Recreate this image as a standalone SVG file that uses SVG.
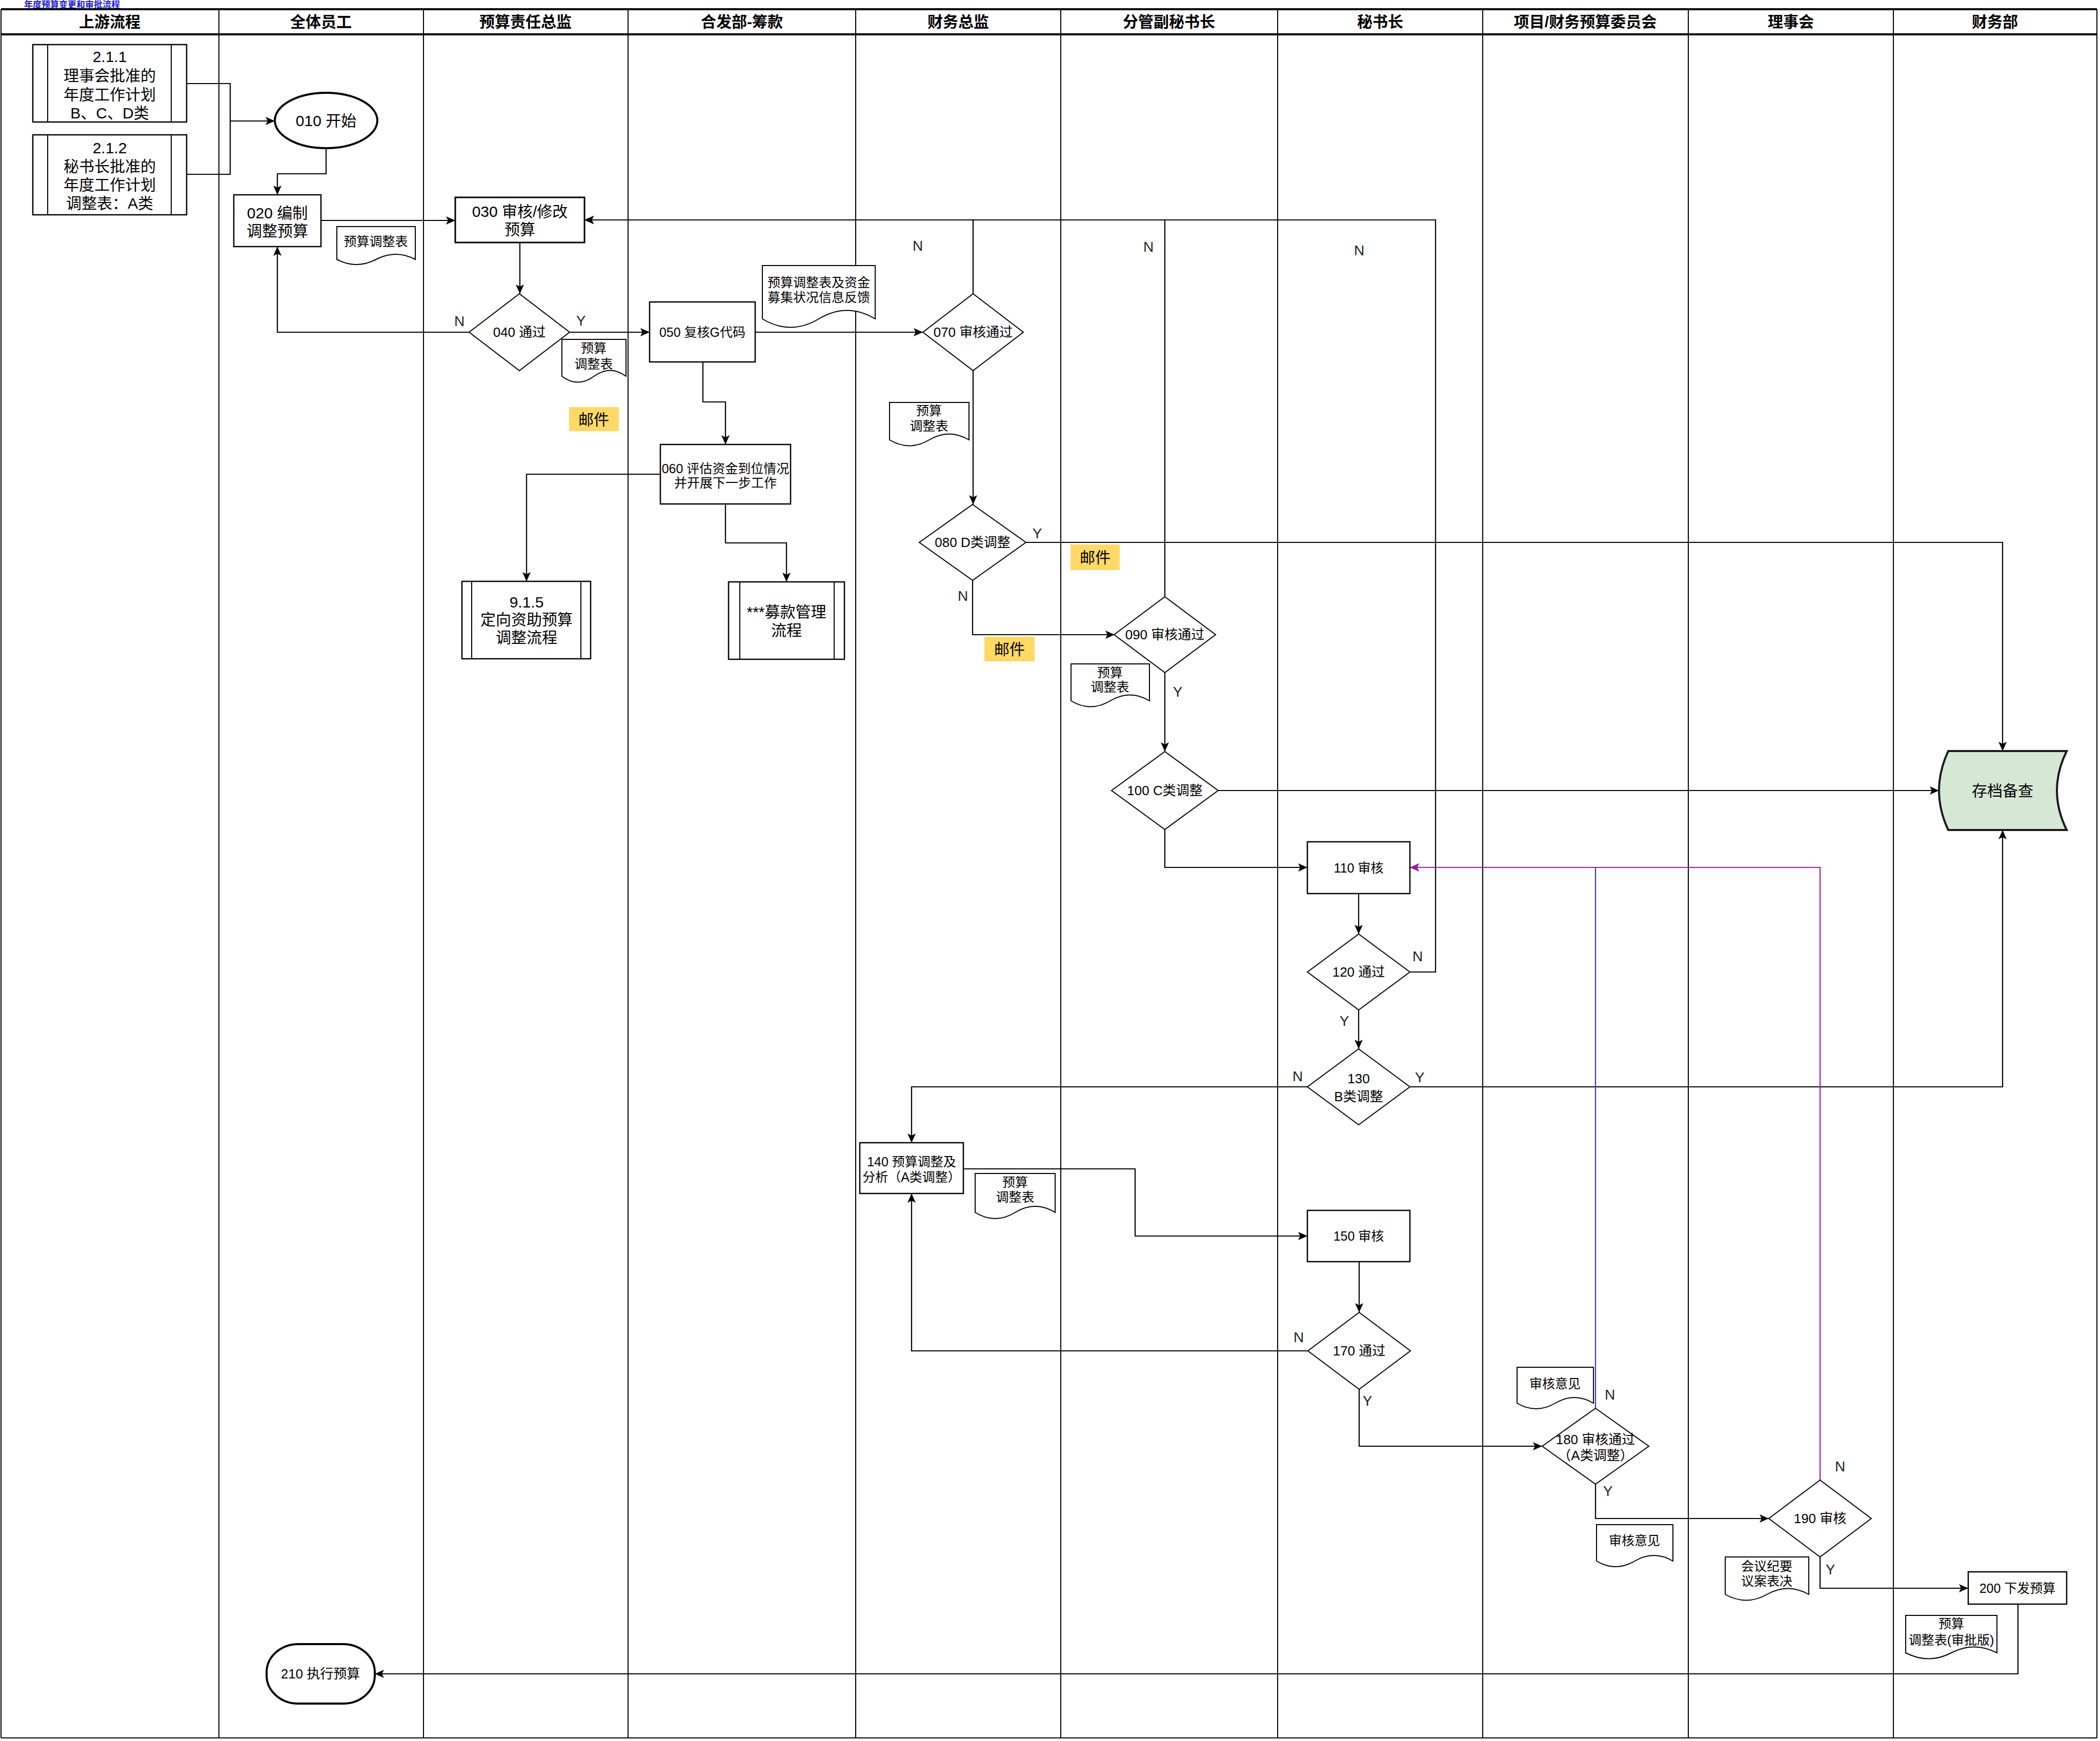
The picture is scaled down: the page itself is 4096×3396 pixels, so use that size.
<svg xmlns="http://www.w3.org/2000/svg" width="4096" height="3396" viewBox="0 0 4096 3396">
<style>
text{font-family:"Liberation Sans","Noto Sans CJK SC",sans-serif;fill:#000;text-anchor:middle;dominant-baseline:central}
.hdr{font-size:30px;font-weight:bold}
.t30{font-size:30px}
.t26{font-size:26px}
.t25{font-size:25px}
.yn{font-size:28px;fill:#222}
.lane{stroke:#000;stroke-width:2;fill:none}
.hline{stroke:#000;stroke-width:4;fill:none}
.box{fill:#fff;stroke:#000;stroke-width:2.5}
.dia{fill:#fff;stroke:#000;stroke-width:2}
.doc{fill:#fff;stroke:#000;stroke-width:2}
.term{fill:#fff;stroke:#000;stroke-width:4}
.mail{fill:#FFD966;stroke:none}
.conn{fill:none;stroke:#000;stroke-width:2.2;marker-end:url(#a)}
.line{fill:none;stroke:#000;stroke-width:2.2}
.blue{fill:none;stroke:#3838c8;stroke-width:2.2;marker-end:url(#ab)}
.purple{fill:none;stroke:#9c1ca8;stroke-width:2.2;marker-end:url(#ap)}
</style>
<defs>
<marker id="a" markerWidth="18" markerHeight="16" refX="18" refY="8" orient="auto" markerUnits="userSpaceOnUse"><path d="M0,0 L18,8 L0,16 L4,8 Z" fill="#000"/></marker>
<marker id="ab" markerWidth="18" markerHeight="16" refX="18" refY="8" orient="auto" markerUnits="userSpaceOnUse"><path d="M0,0 L18,8 L0,16 L4,8 Z" fill="#3838c8"/></marker>
<marker id="ap" markerWidth="18" markerHeight="16" refX="18" refY="8" orient="auto" markerUnits="userSpaceOnUse"><path d="M0,0 L18,8 L0,16 L4,8 Z" fill="#9c1ca8"/></marker>
</defs>
<rect x="0" y="0" width="4096" height="3396" fill="#fff"/>
<text x="47" y="9" style="font-size:17px;fill:#1a1ad0;font-weight:bold;text-anchor:start">年度预算变更和审批流程</text>

<g id="lanes">
<line class="hline" x1="2" y1="18" x2="4090" y2="18"/>
<line class="hline" x1="2" y1="67" x2="4090" y2="67"/>
<line class="lane" x1="2" y1="3390" x2="4090" y2="3390"/>
<line class="lane" x1="2" y1="18" x2="2" y2="3390"/>
<line class="lane" x1="427" y1="18" x2="427" y2="3390"/>
<line class="lane" x1="826" y1="18" x2="826" y2="3390"/>
<line class="lane" x1="1225" y1="18" x2="1225" y2="3390"/>
<line class="lane" x1="1669" y1="18" x2="1669" y2="3390"/>
<line class="lane" x1="2069" y1="18" x2="2069" y2="3390"/>
<line class="lane" x1="2492" y1="18" x2="2492" y2="3390"/>
<line class="lane" x1="2892" y1="18" x2="2892" y2="3390"/>
<line class="lane" x1="3293" y1="18" x2="3293" y2="3390"/>
<line class="lane" x1="3693" y1="18" x2="3693" y2="3390"/>
<line class="lane" x1="4090" y1="18" x2="4090" y2="3390"/>
<text class="hdr" x="214" y="42">上游流程</text>
<text class="hdr" x="626" y="42">全体员工</text>
<text class="hdr" x="1025" y="42">预算责任总监</text>
<text class="hdr" x="1447" y="42">合发部-筹款</text>
<text class="hdr" x="1869" y="42">财务总监</text>
<text class="hdr" x="2280" y="42">分管副秘书长</text>
<text class="hdr" x="2692" y="42">秘书长</text>
<text class="hdr" x="3092" y="42">项目/财务预算委员会</text>
<text class="hdr" x="3493" y="42">理事会</text>
<text class="hdr" x="3891" y="42">财务部</text>
</g>

<g id="connectors">
<path class="line" d="M364 163 H449 V340 H364"/>
<path class="conn" d="M449 236 H536"/>
<path class="conn" d="M636 289 V339 H541 V380"/>
<path class="conn" d="M626 430 H888"/>
<path class="conn" d="M1014 473 V573"/>
<path class="conn" d="M915 648 H541 V481"/>
<path class="conn" d="M1111 648 H1267"/>
<path class="conn" d="M1473 648 H1800"/>
<path class="conn" d="M1371 706 V784 H1415 V867"/>
<path class="conn" d="M1288 925 H1027 V1134"/>
<path class="conn" d="M1415 983 V1059 H1534 V1135"/>
<path class="conn" d="M1898 573 V429 H1140"/>
<path class="conn" d="M1898 723 V984"/>
<path class="conn" d="M2001 1058 H3906 V1465"/>
<path class="conn" d="M1897 1132 V1238 H2174"/>
<path class="conn" d="M2272 1164 V429 H1140"/>
<path class="conn" d="M2272 1312 V1466"/>
<path class="conn" d="M2376 1542 H3782"/>
<path class="conn" d="M2272 1618 V1692 H2550"/>
<path class="conn" d="M2650 1743 V1822"/>
<path class="conn" d="M2750 1896 H2800 V429 H1140"/>
<path class="conn" d="M2650 1970 V2046"/>
<path class="conn" d="M2550 2120 H1778 V2229"/>
<path class="conn" d="M2750 2120 H3906 V1619"/>
<path class="conn" d="M1879 2280 H2214 V2411 H2550"/>
<path class="conn" d="M2651 2461 V2560"/>
<path class="conn" d="M2551 2635 H1778 V2328"/>
<path class="conn" d="M2651 2710 V2821 H3008"/>
<path class="blue" d="M3112 2747 V1692 H2750"/>
<path class="purple" d="M3550 2887 V1692 H2750"/>
<path class="conn" d="M3112 2895 V2962 H3450"/>
<path class="conn" d="M3550 3037 V3098 H3839"/>
<path class="conn" d="M3936 3129 V3265 H731"/>
<text class="yn" x="896" y="626">N</text>
<text class="yn" x="1133" y="625">Y</text>
<text class="yn" x="1790" y="479">N</text>
<text class="yn" x="2240" y="481">N</text>
<text class="yn" x="2651" y="488">N</text>
<text class="yn" x="2023" y="1040">Y</text>
<text class="yn" x="1878" y="1162">N</text>
<text class="yn" x="2297" y="1349">Y</text>
<text class="yn" x="2765" y="1865">N</text>
<text class="yn" x="2622" y="1991">Y</text>
<text class="yn" x="2531" y="2099">N</text>
<text class="yn" x="2769" y="2101">Y</text>
<text class="yn" x="2533" y="2608">N</text>
<text class="yn" x="2667" y="2732">Y</text>
<text class="yn" x="3140" y="2720">N</text>
<text class="yn" x="3136" y="2908">Y</text>
<text class="yn" x="3589" y="2860">N</text>
<text class="yn" x="3570" y="3061">Y</text>
</g>

<g id="n211">
<rect class="box" x="64" y="87" width="300" height="151"/>
<line class="lane" x1="93" y1="87" x2="93" y2="238"/>
<line class="lane" x1="334" y1="87" x2="334" y2="238"/>
<text class="t30" x="214" y="110">2.1.1</text>
<text class="t30" x="214" y="147">理事会批准的</text>
<text class="t30" x="214" y="184">年度工作计划</text>
<text class="t30" x="214" y="220">B、C、D类</text>
</g>
<g id="n212">
<rect class="box" x="64" y="263" width="300" height="156"/>
<line class="lane" x1="93" y1="263" x2="93" y2="419"/>
<line class="lane" x1="334" y1="263" x2="334" y2="419"/>
<text class="t30" x="214" y="288">2.1.2</text>
<text class="t30" x="214" y="324">秘书长批准的</text>
<text class="t30" x="214" y="360">年度工作计划</text>
<text class="t30" x="214" y="396">调整表：A类</text>
</g>
<g id="n010">
<ellipse class="term" cx="636" cy="235" rx="100" ry="54"/>
<text class="t30" x="636" y="235">010 开始</text>
</g>
<g id="n020">
<rect class="box" x="456" y="380" width="170" height="101"/>
<text class="t30" x="541" y="415">020 编制</text>
<text class="t30" x="541" y="450">调整预算</text>
</g>
<g id="d1">
<path class="doc" d="M657 442 H810 V506 Q772 486 733.5 506 Q695 526 657 506 Z"/>
<text class="t25" x="733" y="471">预算调整表</text>
</g>
<g id="n030">
<rect class="box" x="888" y="385" width="252" height="88" style="stroke-width:3"/>
<text class="t30" x="1014" y="412">030 审核/修改</text>
<text class="t30" x="1014" y="447">预算</text>
</g>
<g id="n040">
<polygon class="dia" points="1013,573 1111,648 1013,723 915,648"/>
<text class="t26" x="1013" y="648">040 通过</text>
</g>
<g id="d2">
<path class="doc" d="M1096 662 H1221 V734 Q1190 711 1158.5 734 Q1127 757 1096 734 Z"/>
<text class="t25" x="1158" y="679">预算</text>
<text class="t25" x="1158" y="710">调整表</text>
</g>
<g id="m1">
<rect class="mail" x="1110" y="794" width="97" height="47"/>
<text class="t30" x="1158" y="818">邮件</text>
</g>
<g id="n050">
<rect class="box" x="1267" y="589" width="206" height="117"/>
<text class="t25" x="1370" y="648">050 复核G代码</text>
</g>
<g id="d3">
<path class="doc" d="M1487 518 H1707 V622 Q1652 589 1597 622 Q1542 655 1487 622 Z"/>
<text class="t25" x="1597" y="551">预算调整表及资金</text>
<text class="t25" x="1597" y="580">募集状况信息反馈</text>
</g>
<g id="n060">
<rect class="box" x="1288" y="867" width="254" height="116"/>
<text class="t25" x="1415" y="914">060 评估资金到位情况</text>
<text class="t25" x="1415" y="942">并开展下一步工作</text>
</g>
<g id="n915">
<rect class="box" x="901" y="1134" width="251" height="151"/>
<line class="lane" x1="920" y1="1134" x2="920" y2="1285"/>
<line class="lane" x1="1133" y1="1134" x2="1133" y2="1285"/>
<text class="t30" x="1027" y="1174">9.1.5</text>
<text class="t30" x="1027" y="1208">定向资助预算</text>
<text class="t30" x="1027" y="1243">调整流程</text>
</g>
<g id="nmk">
<rect class="box" x="1421" y="1135" width="226" height="151"/>
<line class="lane" x1="1443" y1="1135" x2="1443" y2="1286"/>
<line class="lane" x1="1627" y1="1135" x2="1627" y2="1286"/>
<text class="t30" x="1534" y="1193">***募款管理</text>
<text class="t30" x="1534" y="1229">流程</text>
</g>
<g id="n070">
<polygon class="dia" points="1898,573 1996,648 1898,723 1800,648"/>
<text class="t26" x="1898" y="648">070 审核通过</text>
</g>
<g id="d4">
<path class="doc" d="M1735 785 H1890 V858 Q1851 835 1812.5 858 Q1774 881 1735 858 Z"/>
<text class="t25" x="1812" y="801">预算</text>
<text class="t25" x="1812" y="831">调整表</text>
</g>
<g id="n080">
<polygon class="dia" points="1897,984 2001,1058 1897,1132 1793,1058"/>
<text class="t26" x="1897" y="1058">080 D类调整</text>
</g>
<g id="m2">
<rect class="mail" x="2088" y="1062" width="96" height="50"/>
<text class="t30" x="2136" y="1087">邮件</text>
</g>
<g id="m3">
<rect class="mail" x="1920" y="1242" width="98" height="48"/>
<text class="t30" x="1969" y="1266">邮件</text>
</g>
<g id="n090">
<polygon class="dia" points="2272,1164 2371,1238 2272,1312 2173,1238"/>
<text class="t26" x="2272" y="1238">090 审核通过</text>
</g>
<g id="d5">
<path class="doc" d="M2089 1295 H2242 V1367 Q2204 1344 2165.5 1367 Q2127 1390 2089 1367 Z"/>
<text class="t25" x="2165" y="1312">预算</text>
<text class="t25" x="2165" y="1340">调整表</text>
</g>
<g id="n100">
<polygon class="dia" points="2272,1466 2376,1542 2272,1618 2168,1542"/>
<text class="t26" x="2272" y="1542">100 C类调整</text>
</g>
<g id="narchive">
<path d="M3800 1465 L4031 1465 Q3993 1542 4031 1619 L3800 1619 Q3764 1542 3800 1465 Z" fill="#d5e8d4" stroke="#1a1a1a" stroke-width="4"/>
<text class="t30" x="3906" y="1542">存档备查</text>
</g>
<g id="n110">
<rect class="box" x="2550" y="1642" width="200" height="101"/>
<text class="t25" x="2650" y="1693">110 审核</text>
</g>
<g id="n120">
<polygon class="dia" points="2650,1822 2750,1896 2650,1970 2550,1896"/>
<text class="t26" x="2650" y="1896">120 通过</text>
</g>
<g id="n130">
<polygon class="dia" points="2650,2046 2750,2120 2650,2194 2550,2120"/>
<text class="t26" x="2650" y="2104">130</text>
<text class="t26" x="2650" y="2139">B类调整</text>
</g>
<g id="n140">
<rect class="box" x="1677" y="2229" width="202" height="99"/>
<text class="t25" x="1778" y="2266">140 预算调整及</text>
<text class="t25" x="1778" y="2296">分析（A类调整）</text>
</g>
<g id="d6">
<path class="doc" d="M1902 2289 H2058 V2365 Q2019 2341 1980 2365 Q1941 2389 1902 2365 Z"/>
<text class="t25" x="1980" y="2306">预算</text>
<text class="t25" x="1980" y="2335">调整表</text>
</g>
<g id="n150">
<rect class="box" x="2550" y="2361" width="200" height="100"/>
<text class="t25" x="2650" y="2411">150 审核</text>
</g>
<g id="n170">
<polygon class="dia" points="2651,2560 2751,2635 2651,2710 2551,2635"/>
<text class="t26" x="2651" y="2635">170 通过</text>
</g>
<g id="d7">
<path class="doc" d="M2959 2667 H3108 V2737 Q3071 2715 3033.5 2737 Q2996 2759 2959 2737 Z"/>
<text class="t25" x="3033" y="2699">审核意见</text>
</g>
<g id="n180">
<polygon class="dia" points="3112,2747 3216,2821 3112,2895 3008,2821"/>
<text class="t26" x="3112" y="2808">180 审核通过</text>
<text class="t26" x="3112" y="2839">（A类调整）</text>
</g>
<g id="d8">
<path class="doc" d="M3114 2974 H3263 V3045 Q3226 3023 3188.5 3045 Q3151 3067 3114 3045 Z"/>
<text class="t25" x="3188" y="3005">审核意见</text>
</g>
<g id="n190">
<polygon class="dia" points="3550,2887 3650,2962 3550,3037 3450,2962"/>
<text class="t26" x="3550" y="2962">190 审核</text>
</g>
<g id="d9">
<path class="doc" d="M3365 3037 H3528 V3110 Q3487 3087 3446.5 3110 Q3406 3133 3365 3110 Z"/>
<text class="t25" x="3446" y="3055">会议纪要</text>
<text class="t25" x="3446" y="3084">议案表决</text>
</g>
<g id="n200">
<rect class="box" x="3839" y="3066" width="192" height="63"/>
<text class="t25" x="3935" y="3098">200 下发预算</text>
</g>
<g id="d10">
<path class="doc" d="M3717 3151 H3895 V3224 Q3850.5 3201 3806 3224 Q3761.5 3247 3717 3224 Z"/>
<text class="t25" x="3806" y="3167">预算</text>
<text class="t25" x="3806" y="3199">调整表(审批版)</text>
</g>
<g id="n210">
<rect class="term" x="520" y="3207" width="211" height="116" rx="62" ry="55"/>
<text class="t26" x="625" y="3265">210 执行预算</text>
</g>
</svg>
